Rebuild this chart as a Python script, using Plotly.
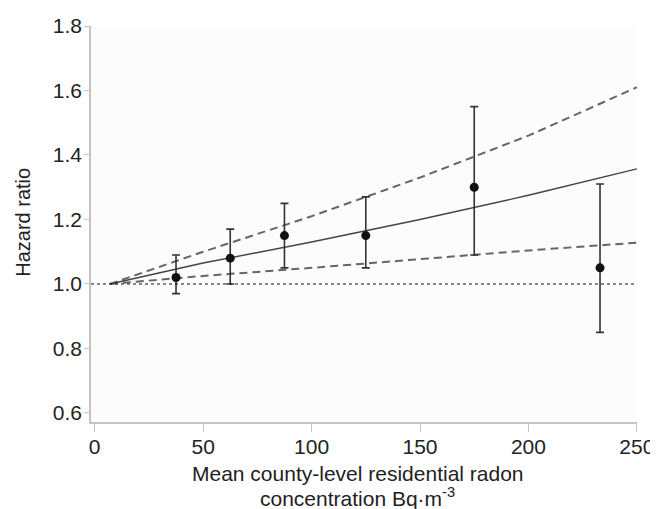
import plotly.graph_objects as go

# Category-specific hazard ratios (points with 95% CI)
cat_x = [37.5, 62.5, 87.5, 125, 175, 233]
cat_hr = [1.02, 1.08, 1.15, 1.15, 1.30, 1.05]
cat_lo = [0.97, 1.00, 1.05, 1.05, 1.09, 0.85]
cat_hi = [1.09, 1.17, 1.25, 1.27, 1.55, 1.31]

# Continuous model fit and 95% CI band
fit_x = [7, 50, 100, 150, 200, 250]
fit_hr = [1.0, 1.065, 1.13, 1.20, 1.275, 1.357]
fit_upper = [1.0, 1.10, 1.21, 1.33, 1.46, 1.61]
fit_lower = [1.0, 1.025, 1.05, 1.078, 1.104, 1.128]

x_ticks = [0, 50, 100, 150, 200, 250]
y_ticks = [0.6, 0.8, 1.0, 1.2, 1.4, 1.6, 1.8]

x_title_lines = ["Mean county-level residential radon",
                 "concentration Bq·m<sup>-3</sup>"]
y_title = "Hazard ratio"

FONT = "Liberation Sans, Arial, sans-serif"
TXT = "#222222"
AX = "#c4c4c4"

fig = go.Figure()

fig.add_hline(y=1.0, line=dict(color="#111111", width=1, dash="dot"))

fig.add_trace(go.Scatter(x=fit_x, y=fit_upper, mode="lines",
                         line=dict(color="#666666", width=2, dash="8px,5px"),
                         hoverinfo="skip", showlegend=False))
fig.add_trace(go.Scatter(x=fit_x, y=fit_lower, mode="lines",
                         line=dict(color="#666666", width=2, dash="8px,5px"),
                         hoverinfo="skip", showlegend=False))
fig.add_trace(go.Scatter(x=fit_x, y=fit_hr, mode="lines",
                         line=dict(color="#444444", width=1.4),
                         hoverinfo="skip", showlegend=False))

fig.add_trace(go.Scatter(
    x=cat_x, y=cat_hr, mode="markers",
    marker=dict(color="#111111", size=9),
    error_y=dict(type="data", symmetric=False,
                 array=[h - y for h, y in zip(cat_hi, cat_hr)],
                 arrayminus=[y - l for y, l in zip(cat_hr, cat_lo)],
                 color="#333333", thickness=1.6, width=4),
    showlegend=False))

fig.update_xaxes(range=[-1.7, 250.05], tickvals=x_ticks,
                 ticks="outside", ticklen=8, tickcolor=AX, tickwidth=1.2,
                 showline=True, linecolor=AX, linewidth=1.5,
                 showgrid=False, zeroline=False, automargin=False,
                 ticklabelstandoff=-3, ticklabeloverflow="allow",
                 tickfont=dict(family=FONT, size=21, color=TXT))
fig.update_yaxes(range=[0.572, 1.8], tickvals=y_ticks, tickformat=".1f",
                 ticks="outside", ticklen=5, tickcolor=AX, tickwidth=1.2,
                 showline=True, linecolor=AX, linewidth=1.5,
                 showgrid=False, zeroline=False, automargin=False,
                 ticklabelstandoff=-2, ticklabeloverflow="allow",
                 tickfont=dict(family=FONT, size=21, color=TXT))

for txt, yy in zip(x_title_lines, [-0.1288, -0.1894]):
    fig.add_annotation(text=txt, xref="paper", yref="paper", x=0.489, y=yy,
                       xanchor="center", yanchor="middle", showarrow=False,
                       font=dict(family=FONT, size=21, color=TXT))
fig.add_annotation(text=y_title, xref="paper", yref="paper",
                   x=-0.125, y=0.505, xanchor="center", yanchor="middle",
                   textangle=-90, showarrow=False,
                   font=dict(family=FONT, size=20, color=TXT))

# page body adds an 8px offset, so the figure is sized to the visible area
fig.update_layout(width=650, height=501,
                  margin=dict(l=83, r=21, t=18, b=87, autoexpand=False),
                  paper_bgcolor="white", plot_bgcolor="#fcfcfc")

fig.write_html("out.html")
